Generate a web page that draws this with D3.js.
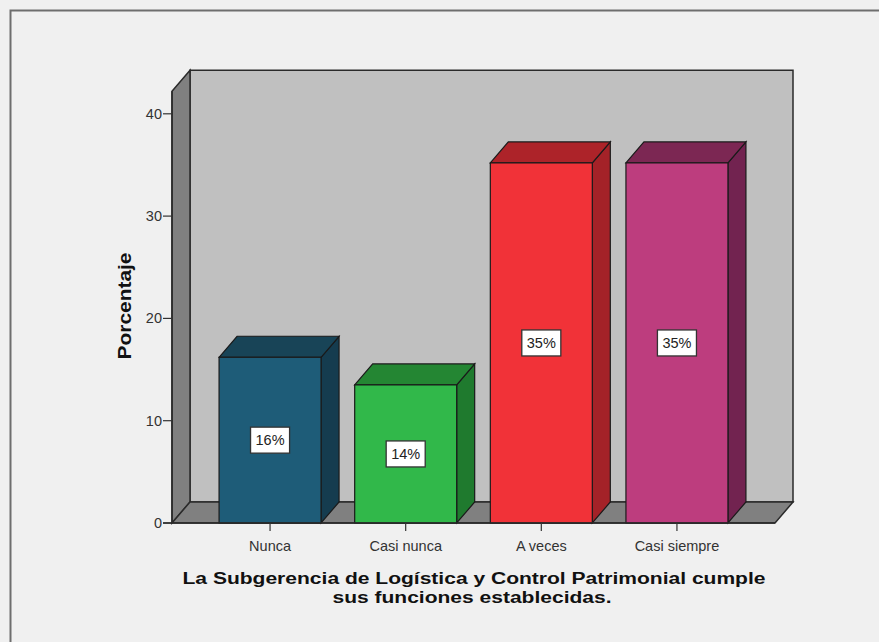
<!DOCTYPE html>
<html>
<head>
<meta charset="utf-8">
<script src="https://cdn.jsdelivr.net/npm/d3@7/dist/d3.min.js"></script>
<style>
  html, body { margin: 0; padding: 0; background: #f0f0f0; }
  svg { display: block; }
  text { font-family: Arial, "Liberation Sans", sans-serif; }
</style>
</head>
<body>
<svg id="chart" width="879" height="642"></svg>
<script>
const categories = ["Nunca", "Casi nunca", "A veces", "Casi siempre"];
const values = [16.2, 13.5, 35.2, 35.2];
const labels = ["16%", "14%", "35%", "35%"];
const yTicks = [0, 10, 20, 30, 40];
const frontColors = ["#1e5c78", "#31b84a", "#f13238", "#bd3d7e"];
const sideColors = ["#153c4f", "#1f7a2e", "#a42228", "#722350"];
const topColors = ["#184457", "#248633", "#ad2329", "#7c2753"];
const xTitle = ["La Subgerencia de Logística y Control Patrimonial cumple", "sus funciones establecidas."];
const yTitle = "Porcentaje";

const svg = d3.select("#chart");
const W = 879, H = 642;

// outer frame
svg.append("rect").attr("x", 0).attr("y", 0).attr("width", W).attr("height", H).attr("fill", "#f0f0f0");
svg.append("rect").attr("x", 10.5).attr("y", 10.5).attr("width", W + 20).attr("height", H + 20)
  .attr("fill", "#f0f0f0").attr("stroke", "#6e6e6e").attr("stroke-width", 2);

const left = 172, right = 775;
const dx = 18, dy = -21;
const y = d3.scaleLinear().domain([0, 40]).range([523, 113.8]);
const yTop = 42.2;
const x = d3.scaleBand().domain(categories).range([left, right]).paddingInner(0.248).paddingOuter(0.347);

const stroke = "#2a2a2a";
const y0 = y(0), yT = y(yTop);

// back wall
svg.append("path")
  .attr("d", `M${left + dx},${yT + dy}L${right + dx},${yT + dy}L${right + dx},${y0 + dy}L${left + dx},${y0 + dy}Z`)
  .attr("fill", "#c0c0c0").attr("stroke", stroke).attr("stroke-width", 1.5);
// left wall
svg.append("path")
  .attr("d", `M${left},${yT}L${left + dx},${yT + dy}L${left + dx},${y0 + dy}L${left},${y0}Z`)
  .attr("fill", "#808080").attr("stroke", stroke).attr("stroke-width", 1.5);
// floor
svg.append("path")
  .attr("d", `M${left},${y0}L${left + dx},${y0 + dy}L${right + dx},${y0 + dy}L${right},${y0}Z`)
  .attr("fill", "#808080").attr("stroke", stroke).attr("stroke-width", 1.5);

// bars
const bars = svg.append("g");
categories.forEach((c, i) => {
  const x0 = x(c), x1 = x0 + x.bandwidth(), yv = y(values[i]);
  const g = bars.append("g");
  g.append("path")
    .attr("d", `M${x1},${yv}L${x1 + dx},${yv + dy}L${x1 + dx},${y0 + dy}L${x1},${y0}Z`)
    .attr("fill", sideColors[i]).attr("stroke", "#1a1a1a").attr("stroke-width", 1.2);
  g.append("path")
    .attr("d", `M${x0},${yv}L${x0 + dx},${yv + dy}L${x1 + dx},${yv + dy}L${x1},${yv}Z`)
    .attr("fill", topColors[i]).attr("stroke", "#1a1a1a").attr("stroke-width", 1.2);
  g.append("rect")
    .attr("x", x0).attr("y", yv).attr("width", x.bandwidth()).attr("height", y0 - yv)
    .attr("fill", frontColors[i]).attr("stroke", "#1a1a1a").attr("stroke-width", 1.2);
  // label
  const cx = x0 + x.bandwidth() / 2, cy = y(values[i] / 2);
  const t = g.append("text").attr("x", cx).attr("y", cy + 5).attr("text-anchor", "middle")
    .attr("font-size", 14.5).attr("fill", "#222").text(labels[i]);
  const w = t.node().getComputedTextLength();
  g.insert("rect", "text").attr("x", cx - w / 2 - 5).attr("y", cy - 13).attr("width", w + 10).attr("height", 26)
    .attr("fill", "#ffffff").attr("stroke", "#333").attr("stroke-width", 1.3);
});

// y axis
const yAxis = svg.append("g");
yAxis.append("line").attr("x1", left).attr("x2", left).attr("y1", yT).attr("y2", y0).attr("stroke", stroke).attr("stroke-width", 1.5);
yTicks.forEach(v => {
  yAxis.append("line").attr("x1", left - 9).attr("x2", left).attr("y1", y(v)).attr("y2", y(v)).attr("stroke", "#333").attr("stroke-width", 1.2);
  yAxis.append("text").attr("x", left - 10).attr("y", y(v) + 5).attr("text-anchor", "end")
    .attr("font-size", 14.5).attr("fill", "#333").text(v);
});

// x axis
const xAxis = svg.append("g");
xAxis.append("line").attr("x1", left - 9).attr("x2", right).attr("y1", y0).attr("y2", y0).attr("stroke", stroke).attr("stroke-width", 1.5);
categories.forEach(c => {
  const cx = x(c) + x.bandwidth() / 2;
  xAxis.append("line").attr("x1", cx).attr("x2", cx).attr("y1", y0).attr("y2", y0 + 8).attr("stroke", "#333").attr("stroke-width", 1.2);
  xAxis.append("text").attr("x", cx).attr("y", 551).attr("text-anchor", "middle")
    .attr("font-size", 14.5).attr("fill", "#333").text(c);
});

// titles
svg.append("text").attr("x", 474).attr("y", 584).attr("text-anchor", "middle")
  .attr("font-size", 16).attr("font-weight", "bold").attr("fill", "#111")
  .attr("textLength", 583).attr("lengthAdjust", "spacingAndGlyphs").text(xTitle[0]);
svg.append("text").attr("x", 472).attr("y", 603).attr("text-anchor", "middle")
  .attr("font-size", 16).attr("font-weight", "bold").attr("fill", "#111")
  .attr("textLength", 279).attr("lengthAdjust", "spacingAndGlyphs").text(xTitle[1]);
svg.append("text").attr("transform", "translate(131,306) rotate(-90)").attr("text-anchor", "middle")
  .attr("font-size", 19).attr("font-weight", "bold").attr("fill", "#111")
  .attr("textLength", 107).attr("lengthAdjust", "spacingAndGlyphs").text(yTitle);
</script>
</body>
</html>
